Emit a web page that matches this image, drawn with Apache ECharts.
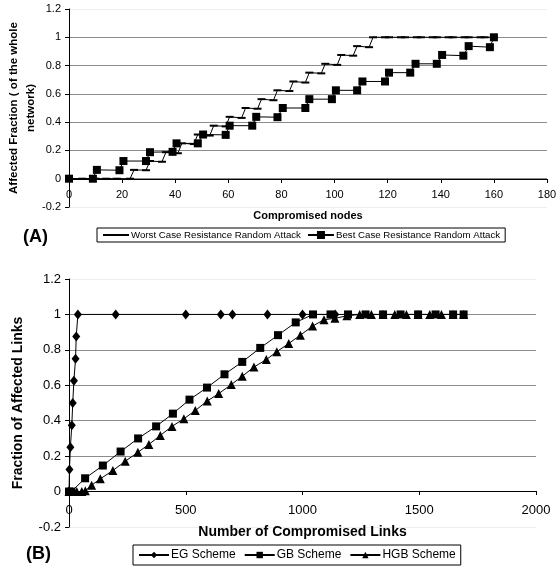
<!DOCTYPE html>
<html>
<head>
<meta charset="utf-8">
<script src="https://cdn.jsdelivr.net/npm/echarts@6/dist/echarts.min.js"></script>
<style>
html,body{margin:0;padding:0;background:#fff;}
#c{width:556px;height:570px;}
</style>
</head>
<body>
<div id="c"></div>
<script>
// ---------- Chart A data ----------
const worstCase = [
  [0,0],[5,0],[10,0],[14,0],[18,0],[23,0],
  [24.5,0.0625],[29,0.06],[30.5,0.125],[35,0.12],[36.5,0.1875],[41,0.18],
  [42.5,0.25],[47,0.245],[48.5,0.3125],[53,0.305],[54.5,0.375],[59,0.37],
  [60.5,0.4375],[65,0.43],[66.5,0.5],[71,0.495],[72.5,0.5625],[77,0.555],
  [78.5,0.625],[83,0.62],[84.5,0.6875],[89,0.68],[90.5,0.75],[95,0.745],
  [96.5,0.8125],[101,0.805],[102.5,0.875],[107,0.87],[108.5,0.9375],[113,0.93],
  [114.5,1],[119,1],[120.5,1],[125,1],[126.5,1],[131,1],[132.5,1],[137,1],
  [138.5,1],[143,1],[144.5,1],[149,1],[150.5,1],[155,1],[156.5,1],[160,1]
];
const bestCase = [
  [0,0],[9,0],[10.5,0.0625],[19,0.06],[20.5,0.125],[29,0.125],[30.5,0.1875],[39,0.19],
  [40.5,0.25],[48.5,0.25],[50.5,0.3125],[59,0.31],[60.5,0.375],[69,0.375],
  [70.5,0.4375],[78.5,0.435],[80.5,0.5],[89,0.5],[90.5,0.5625],[99,0.5625],
  [100.5,0.625],[108.5,0.625],[110.5,0.6875],[119,0.6875],[120.5,0.75],[128.5,0.75],
  [130.5,0.8125],[138.5,0.8125],[140.5,0.875],[148.5,0.87],[150.5,0.9375],[158.5,0.93],[160,1]
];
// ---------- Chart B data ----------
const egScheme = [
  [0,0],[2,0.125],[6,0.25],[12,0.375],[16,0.5],[21,0.625],[28,0.75],[31,0.875],[38,1],
  [200,1],[500,1],[650,1],[700,1],[850,1],[1000,1],[1140,1]
];
const gbScheme = [
  [0,0],[10,0],[69,0.075],[145,0.147],[221,0.226],[296,0.3],[373,0.368],[445,0.44],
  [516,0.519],[591,0.587],[666,0.662],[742,0.732],[819,0.811],[895,0.883],[971,0.955],
  [1045,1],[1120,1],[1195,1],[1270,1],[1345,1],[1420,1],[1495,1],[1570,1],[1645,1],[1690,1]
];
const hgbScheme = [
  [0,0],[33,0],[55,0],[70,0.005],[97,0.036],[134,0.072],[188,0.119],[241,0.171],
  [295,0.222],[342,0.266],[391,0.317],[441,0.368],[492,0.411],[541,0.458],[592,0.511],
  [641,0.553],[695,0.604],[742,0.651],[792,0.703],[845,0.745],[890,0.79],[941,0.836],
  [991,0.883],[1043,0.934],[1092,0.97],[1139,0.978],[1190,0.992],[1245,1],[1295,1],
  [1345,1],[1395,1],[1445,1],[1495,1],[1545,1],[1595,1],[1645,1],[1690,1]
];

const FONT = 'Liberation Sans, Arial, sans-serif';
const GRID_C = '#8c8c8c';
const gridColors = ['#eeeeee', GRID_C, GRID_C, GRID_C, GRID_C, GRID_C, GRID_C, '#eeeeee'];
const DASH = 'path://M0,0M8,8M0,3H8V5H0Z';

function yAx(gi, fs, name, nameFs, gap) {
  return {
    type: 'value', gridIndex: gi, min: -0.2, max: 1.2, interval: 0.2,
    name: name, nameLocation: 'middle', nameGap: gap, nameRotate: 90, nameMoveOverlap: false,
    nameTextStyle: {fontFamily: FONT, fontWeight: 'bold', fontSize: nameFs, color: '#000', lineHeight: nameFs + 6},
    axisLine: {show: true, lineStyle: {color: '#000', width: 1}},
    axisTick: {show: true, length: 4, lineStyle: {color: '#000'}},
    axisLabel: {fontFamily: FONT, fontSize: fs, color: '#000', margin: 8},
    splitLine: {show: true, lineStyle: {color: gridColors, width: 1}}
  };
}
function xAx(gi, max, interval, fs, name, nameFs, gap, margin, offset) {
  return {
    type: 'value', gridIndex: gi, min: 0, max: max, interval: interval,
    position: 'bottom', offset: offset,
    name: name, nameLocation: 'middle', nameGap: gap, nameMoveOverlap: false,
    nameTextStyle: {fontFamily: FONT, fontWeight: 'bold', fontSize: nameFs, color: '#000'},
    axisLine: {show: true, onZero: false, lineStyle: {color: '#000', width: 1}},
    axisTick: {show: true, length: 4, lineStyle: {color: '#000'}},
    axisLabel: {fontFamily: FONT, fontSize: fs, color: '#000', margin: margin, formatter: v => String(v)},
    splitLine: {show: false}
  };
}
function ser(name, data, xi, yi, symbol, size) {
  return {
    name: name, type: 'line', data: data, xAxisIndex: xi, yAxisIndex: yi,
    symbol: symbol, symbolSize: size, showSymbol: true,
    lineStyle: {color: '#000', width: 1}, itemStyle: {color: '#000'},
    emphasis: {disabled: true}, z: 3
  };
}

const chart = echarts.init(document.getElementById('c'), null, {renderer: 'canvas'});
chart.setOption({
  animation: false,
  backgroundColor: '#fff',
  title: [
    {text: '(A)', left: 23, top: 228, textStyle: {fontFamily: FONT, fontWeight: 'bold', fontSize: 18, color: '#000'}, padding: 0},
    {text: '(B)', left: 26, top: 545, textStyle: {fontFamily: FONT, fontWeight: 'bold', fontSize: 18, color: '#000'}, padding: 0}
  ],
  grid: [
    {left: 69, top: 9, width: 478, height: 198, containLabel: false, outerBoundsMode: 'none'},
    {left: 69, top: 279, width: 467, height: 248, containLabel: false, outerBoundsMode: 'none'}
  ],
  xAxis: [
    xAx(0, 180, 20, 11, 'Compromised nodes', 11, 31, 10, -28),
    xAx(1, 2000, 500, 13, 'Number of Compromised Links', 14, 34, 13, -36)
  ],
  yAxis: [
    yAx(0, 11, 'Affected Fraction ( of the whole\nnetwork)', 11.5, 29),
    yAx(1, 13, 'Fraction of Affected Links', 14, 41)
  ],
  legend: [
    {
      data: ['Worst Case Resistance Random Attack', 'Best Case Resistance Random Attack'],
      left: 97, top: 228, orient: 'horizontal', padding: [2, 5], itemGap: 6,
      itemWidth: 26, itemHeight: 10,
      borderColor: '#000', borderWidth: 1, backgroundColor: '#fff',
      textStyle: {fontFamily: FONT, fontSize: 9.7, color: '#000', padding: [0, 0, 0, -3]}
    },
    {
      data: ['EG Scheme', 'GB Scheme', 'HGB Scheme'],
      left: 133, top: 545, orient: 'horizontal', padding: [4, 5], itemGap: 8,
      itemWidth: 30, itemHeight: 8,
      borderColor: '#000', borderWidth: 1, backgroundColor: '#fff',
      textStyle: {fontFamily: FONT, fontSize: 12, color: '#000', padding: [0, 0, 0, -3]}
    }
  ],
  series: [
    ser('Worst Case Resistance Random Attack', worstCase, 0, 0, DASH, 8),
    ser('Best Case Resistance Random Attack', bestCase, 0, 0, 'rect', 8),
    ser('EG Scheme', egScheme, 1, 1, 'diamond', [8, 10]),
    ser('GB Scheme', gbScheme, 1, 1, 'rect', 8),
    ser('HGB Scheme', hgbScheme, 1, 1, 'triangle', 9)
  ]
});
</script>
</body>
</html>
